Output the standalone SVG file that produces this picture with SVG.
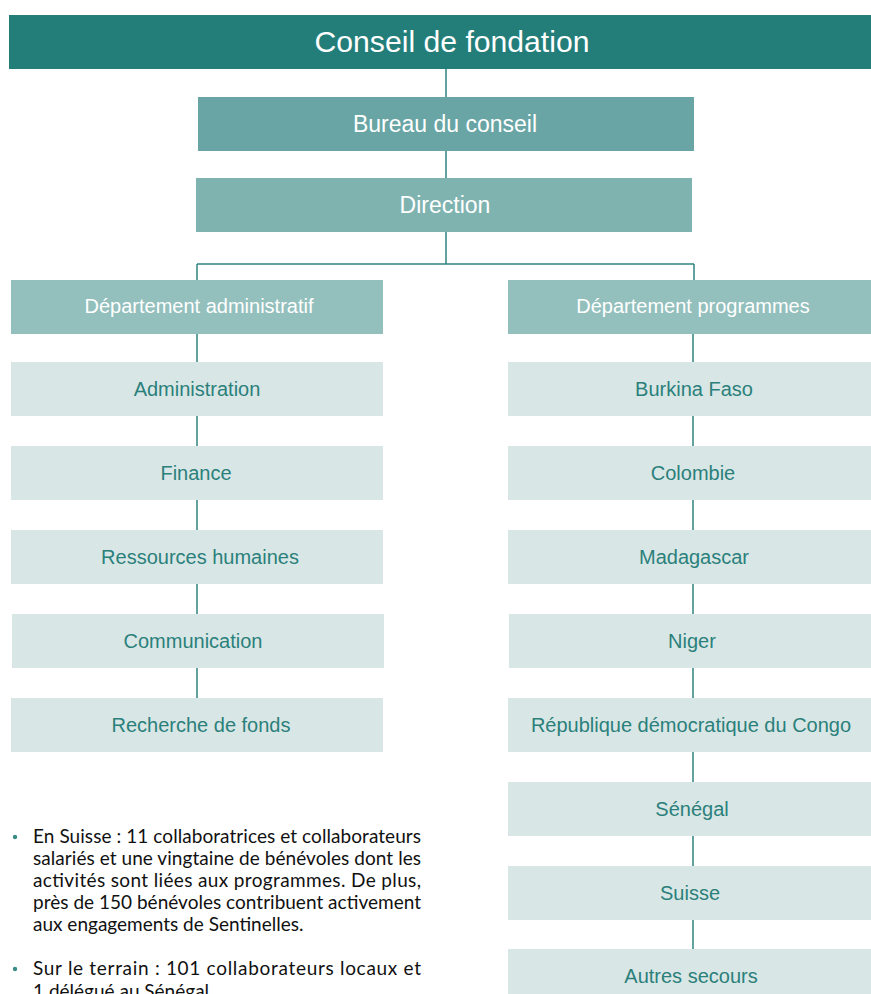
<svg xmlns="http://www.w3.org/2000/svg" width="871" height="994" viewBox="0 0 871 994">
<style>
text{font-family:"Liberation Sans",Arial,sans-serif;text-anchor:middle}
.w{fill:#ffffff}
.t{fill:#2b807b;font-size:20px}
.lt{fill:#d8e7e6}
.c{stroke:#2f8580;stroke-width:1.5;fill:none}
.p{font-family:Lato,"Open Sans",sans-serif;font-size:19px;fill:#111111;text-anchor:start}
.b{fill:#3a8c88}
</style>
<rect width="871" height="994" fill="#ffffff"/>
<g id="connectors" class="c">
<path d="M446 69V97M446 151V178M446 232V264M197 264H694M197 264V280M694 264V280"/>
<path d="M197 334V362M197 416V446M197 500V530M197 584V614M197 668V698"/>
<path d="M693 334V362M693 416V446M693 500V530M693 584V614M693 668V698M693 752V782M693 836V866M693 920V949"/>
</g>
<g id="conseil"><rect x="9" y="15" width="862" height="54" fill="#237e7a"/><text x="452" y="52" class="w" font-size="30" textLength="275" lengthAdjust="spacingAndGlyphs">Conseil de fondation</text></g>
<g id="bureau"><rect x="198" y="97" width="496" height="54" fill="#68a5a4"/><text x="445" y="132" class="w" font-size="23">Bureau du conseil</text></g>
<g id="direction"><rect x="196" y="178" width="496" height="54" fill="#7fb3b0"/><text x="445" y="213" class="w" font-size="23">Direction</text></g>
<g id="dept-admin"><rect x="11" y="280" width="372" height="54" fill="#93bfbd"/><text x="199" y="313" class="w" font-size="20">Département administratif</text></g>
<g id="dept-prog"><rect x="508" y="280" width="363" height="54" fill="#93bfbd"/><text x="693" y="313" class="w" font-size="20">Département programmes</text></g>
<g id="administration"><rect class="lt" x="11" y="362" width="372" height="54"/><text class="t" x="197" y="396">Administration</text></g>
<g id="finance"><rect class="lt" x="11" y="446" width="372" height="54"/><text class="t" x="196" y="480">Finance</text></g>
<g id="rh"><rect class="lt" x="11" y="530" width="372" height="54"/><text class="t" x="200" y="564">Ressources humaines</text></g>
<g id="communication"><rect class="lt" x="12" y="614" width="372" height="54"/><text class="t" x="193" y="648">Communication</text></g>
<g id="recherche"><rect class="lt" x="11" y="698" width="372" height="54"/><text class="t" x="201" y="732">Recherche de fonds</text></g>
<g id="burkina"><rect class="lt" x="508" y="362" width="363" height="54"/><text class="t" x="694" y="396">Burkina Faso</text></g>
<g id="colombie"><rect class="lt" x="508" y="446" width="363" height="54"/><text class="t" x="693" y="480">Colombie</text></g>
<g id="madagascar"><rect class="lt" x="508" y="530" width="363" height="54"/><text class="t" x="694" y="564">Madagascar</text></g>
<g id="niger"><rect class="lt" x="509" y="614" width="362" height="54"/><text class="t" x="692" y="648">Niger</text></g>
<g id="rdc"><rect class="lt" x="508" y="698" width="363" height="54"/><text class="t" x="691" y="732">République démocratique du Congo</text></g>
<g id="senegal"><rect class="lt" x="508" y="782" width="363" height="54"/><text class="t" x="692" y="816">Sénégal</text></g>
<g id="suisse"><rect class="lt" x="508" y="866" width="363" height="54"/><text class="t" x="690" y="900">Suisse</text></g>
<g id="autres"><rect class="lt" x="508" y="949" width="363" height="50"/><text class="t" x="691" y="983">Autres secours</text></g>
<g id="notes">
<circle class="b" cx="15" cy="837" r="2.2"/>
<text class="p" x="33" y="843" textLength="388" lengthAdjust="spacing">En Suisse : 11 collaboratrices et collaborateurs</text>
<text class="p" x="33" y="865" textLength="388" lengthAdjust="spacing">salariés et une vingtaine de bénévoles dont les</text>
<text class="p" x="33" y="887" textLength="388" lengthAdjust="spacing">activités sont liées aux programmes. De plus,</text>
<text class="p" x="33" y="909" textLength="388" lengthAdjust="spacing">près de 150 bénévoles contribuent activement</text>
<text class="p" x="33" y="931">aux engagements de Sentinelles.</text>
<circle class="b" cx="15" cy="969" r="2.2"/>
<text class="p" x="33" y="975" textLength="388" lengthAdjust="spacing">Sur le terrain : 101 collaborateurs locaux et</text>
<text class="p" x="33" y="998">1 délégué au Sénégal.</text>
</g>
</svg>
